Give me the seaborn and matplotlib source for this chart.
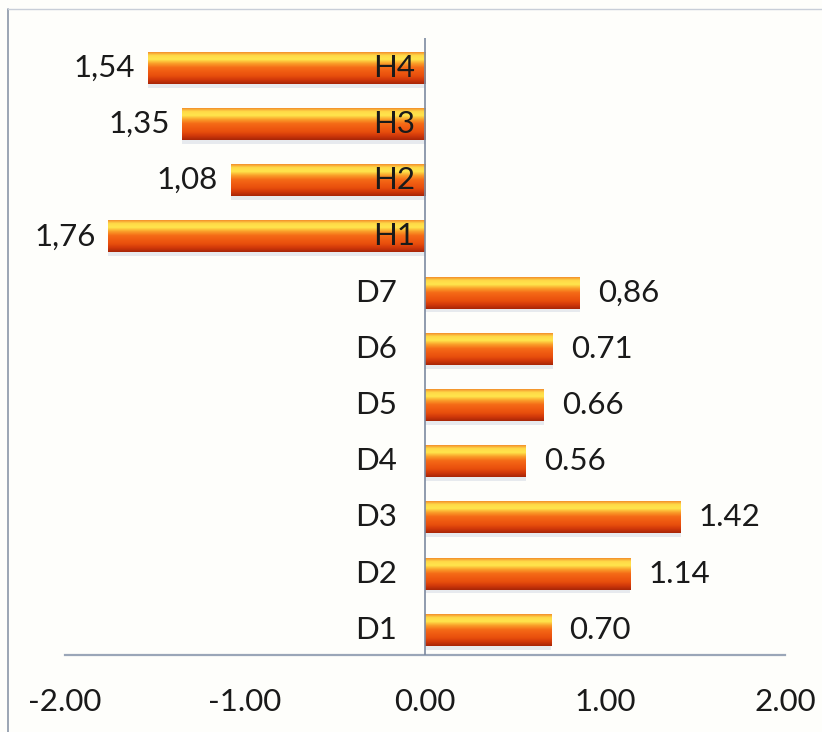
import numpy as np
import pandas as pd
import matplotlib
matplotlib.use("Agg")
import matplotlib.pyplot as plt
import seaborn as sns
from matplotlib.lines import Line2D

# data (top to bottom)
labels = ["H4", "H3", "H2", "H1", "D7", "D6", "D5", "D4", "D3", "D2", "D1"]
values = [-1.54, -1.35, -1.08, -1.76, 0.86, 0.71, 0.66, 0.56, 1.42, 1.14, 0.70]
value_text = ["1,54", "1,35", "1,08", "1,76", "0,86", "0.71", "0.66", "0.56", "1.42", "1.14", "0.70"]
xticks = [-2, -1, 0, 1, 2]

df = pd.DataFrame({"label": labels, "value": values})

sns.set_style("white")
plt.rcParams["font.family"] = ["Lato", "DejaVu Sans"]
FS = 22.5

fig = plt.figure(figsize=(8.22, 7.32), dpi=100)
fig.patch.set_facecolor("#fefefb")
ax = fig.add_axes([65 / 822, 1 - 655 / 732, 720 / 822, 617 / 732])
ax.set_facecolor("none")

sns.barplot(data=df, x="value", y="label", orient="h", color="#E8561A",
            width=0.57, ax=ax, saturation=1, edgecolor="none")

# glossy gradient on each bar
grad_cols = np.array([
    [0.94, 0.48, 0.14], [1.00, 0.85, 0.28], [1.00, 0.90, 0.30], [0.98, 0.62, 0.16],
    [0.96, 0.42, 0.09], [0.94, 0.36, 0.07], [0.91, 0.31, 0.05], [0.82, 0.22, 0.04],
    [0.66, 0.15, 0.03]])
pos = np.linspace(0, 1, len(grad_cols))
t = np.linspace(0, 1, 64)
grad = np.stack([np.interp(t, pos, grad_cols[:, k]) for k in range(3)], axis=1)[:, None, :]
for p in ax.patches:
    x0, y0, w, h = p.get_x(), p.get_y(), p.get_width(), p.get_height()
    xl, xr = min(x0, x0 + w), max(x0, x0 + w)
    # soft shadow
    ax.fill_between([xl, xr], y0 + h, y0 + h * 1.12, color="#d8dde6", alpha=0.6, lw=0, zorder=1)
    im = ax.imshow(grad, extent=(xl, xr, y0 + h, y0), aspect="auto", origin="upper",
                   interpolation="bilinear", zorder=3)
    im.set_clip_path(p)

ax.set_xlim(-2, 2)
ax.set_ylim(10.45, -0.53)

# value labels and category labels
for i, (v, txt, lab) in enumerate(zip(values, value_text, labels)):
    if v < 0:
        ax.annotate(txt, (v, i), xytext=(-9, 0), textcoords="offset points",
                    ha="right", va="center", fontsize=FS, color="#1a1a1a")
        ax.annotate(lab, (0, i), xytext=(-7, 0), textcoords="offset points",
                    ha="right", va="center", fontsize=FS, color="#1a1a1a", zorder=5)
    else:
        ax.annotate(txt, (v, i), xytext=(13, 0), textcoords="offset points",
                    ha="left", va="center", fontsize=FS, color="#1a1a1a")
        ax.annotate(lab, (0, i), xytext=(-20, 0), textcoords="offset points",
                    ha="right", va="center", fontsize=FS, color="#1a1a1a")

ax.axvline(0, color="#7d8aa0", lw=1.2, zorder=4)

ax.set_xticks(xticks)
ax.set_xticklabels([f"{x:.2f}" for x in xticks], fontsize=FS, color="#1a1a1a")
ax.tick_params(axis="x", length=0, pad=24)
ax.set_yticks([])
ax.set_xlabel("")
ax.set_ylabel("")
for s in ["top", "right", "left"]:
    ax.spines[s].set_visible(False)
ax.spines["bottom"].set_color("#9aa6b8")
ax.spines["bottom"].set_linewidth(1.6)

# outer frame edge
fig.add_artist(Line2D([8 / 822, 8 / 822], [0, 1 - 9 / 732], transform=fig.transFigure,
                      color="#8a96a8", lw=1.2))
fig.add_artist(Line2D([8 / 822, 1], [1 - 9 / 732, 1 - 9 / 732], transform=fig.transFigure,
                      color="#c8ced8", lw=1.0))

fig.savefig("out.png", dpi=100, facecolor=fig.get_facecolor())
